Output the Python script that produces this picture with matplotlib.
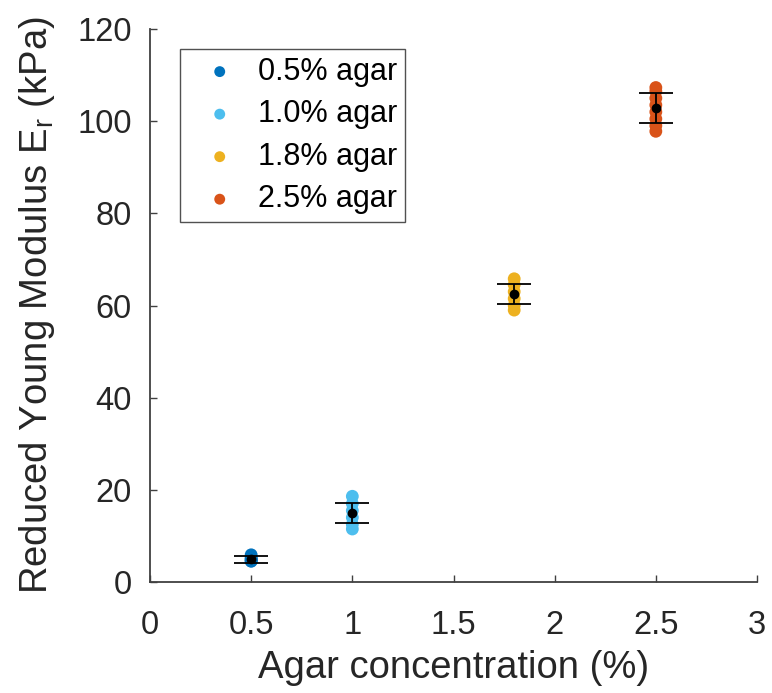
import matplotlib
matplotlib.use("Agg")
import matplotlib.pyplot as plt

plt.rcParams['font.family'] = ['Liberation Sans', 'DejaVu Sans']
plt.rcParams['mathtext.fontset'] = 'custom'
plt.rcParams['mathtext.rm'] = 'Liberation Sans'

labels = ['0.5% agar', '1.0% agar', '1.8% agar', '2.5% agar']
conc = [0.5, 1.0, 1.8, 2.5]
colors = ['#0072BD', '#4DBEEE', '#EDB120', '#D95319']
pts_05 = [4.5, 4.8, 5.0, 5.3, 5.9, 4.6]
pts_10 = [11.5, 12.5, 14.0, 15.5, 17.0, 18.6]
pts_18 = [59.0, 60.0, 61.5, 63.0, 64.5, 65.8]
pts_25 = [97.8, 99.0, 100.5, 102.0, 103.5, 105.0, 106.5, 107.3]
means = [4.9, 15.0, 62.5, 102.8]
errs = [0.7, 2.1, 2.2, 3.3]

groups = [pts_05, pts_10, pts_18, pts_25]

fig = plt.figure(figsize=(7.72, 6.93), dpi=100)
ax = fig.add_axes([150/772, 1-582/693, 607/772, 553/693])

for x, pts, c, lab in zip(conc, groups, colors, labels):
    ax.scatter([x]*len(pts), pts, s=85, color=c, edgecolors='none', label=lab, zorder=2)

ax.errorbar(conc, means, yerr=errs, fmt='o', color='black', ms=6, elinewidth=1.3,
            capsize=12, capthick=1.3, zorder=3)

ax.set_xlim(0, 3)
ax.set_ylim(0, 120)
ax.set_xticks([0, 0.5, 1, 1.5, 2, 2.5, 3])
ax.set_xticklabels(['0', '0.5', '1', '1.5', '2', '2.5', '3'])
ax.set_yticks([0, 20, 40, 60, 80, 100, 120])
for s in ['top', 'right']:
    ax.spines[s].set_visible(False)
for s in ['left', 'bottom']:
    ax.spines[s].set_color('#404040')
    ax.spines[s].set_linewidth(1.3)
ax.tick_params(direction='in', length=5, width=1, colors='#404040', labelsize=23.5,
               labelcolor='#262626')
ax.tick_params(axis='x', pad=20)
ax.tick_params(axis='y', pad=13)
ax.set_xlabel('Agar concentration (%)', fontsize=27.5, color='#262626', labelpad=7)
ax.set_ylabel('Reduced Young Modulus E$_\\mathregular{r}$ (kPa)', fontsize=27.5,
              color='#262626', labelpad=15)

leg = ax.legend(loc='upper left', bbox_to_anchor=(30/607, 1-20/553), fontsize=22,
                frameon=True, fancybox=False, edgecolor='#262626', handletextpad=0.2,
                borderpad=0.25, labelspacing=0.41, scatterpoints=1, handlelength=2.1,
                borderaxespad=0, markerscale=0.85)
leg.get_frame().set_linewidth(1.0)

fig.savefig('out.png', dpi=100)
